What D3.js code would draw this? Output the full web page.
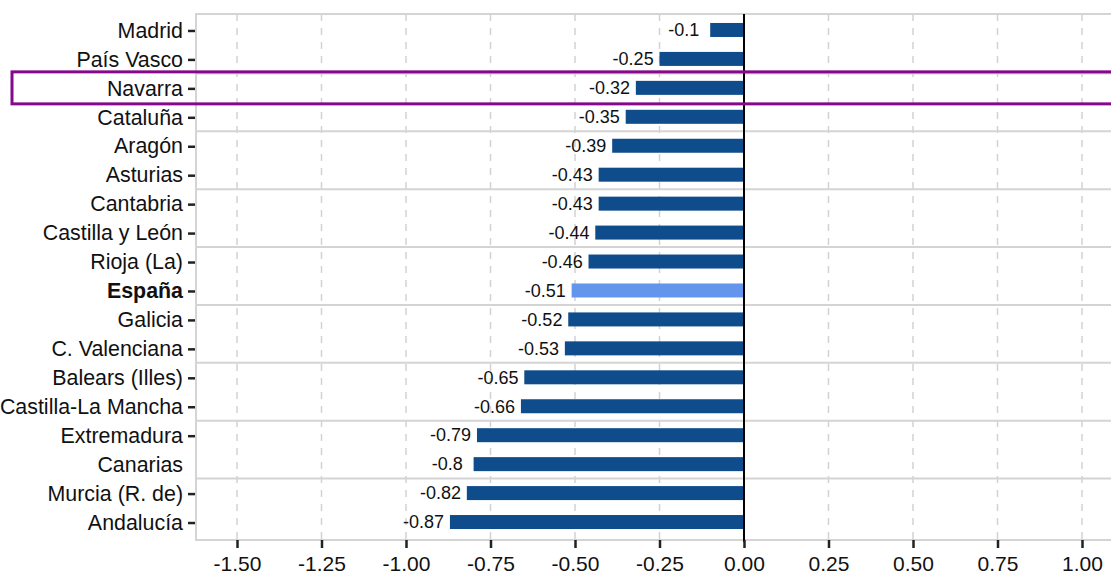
<!DOCTYPE html>
<html>
<head>
<meta charset="utf-8">
<script src="https://cdn.jsdelivr.net/npm/d3@7"></script>
<style>
  html, body { margin: 0; padding: 0; background: #ffffff; }
  svg { display: block; }
  text { font-family: "Liberation Sans", Arial, sans-serif; }
</style>
</head>
<body>
<svg id="chart" width="1111" height="574"></svg>
<script>
const categories = ["Madrid", "País Vasco", "Navarra", "Cataluña", "Aragón", "Asturias", "Cantabria",
  "Castilla y León", "Rioja (La)", "España", "Galicia", "C. Valenciana", "Balears (Illes)",
  "Castilla-La Mancha", "Extremadura", "Canarias", "Murcia (R. de)", "Andalucía"];
const values = [-0.1, -0.25, -0.32, -0.35, -0.39, -0.43, -0.43, -0.44, -0.46, -0.51, -0.52, -0.53,
  -0.65, -0.66, -0.79, -0.8, -0.82, -0.87];
const xTicks = [-1.5, -1.25, -1.0, -0.75, -0.5, -0.25, 0, 0.25, 0.5, 0.75, 1.0];
const highlightCategory = "España";
const boxedCategory = "Navarra";
const noTickCategory = "Canarias";

const data = categories.map((c, i) => ({ cat: c, val: values[i] }));

const svg = d3.select("#chart");
const pLeft = 196, pTop = 14, pBottom = 540;
const bandTop = 15.5, bandBottom = 536.5;
const pxPerUnit = 338;
const x0 = 744;
const xDomain = [(pLeft - x0) / pxPerUnit, 1.13];
const x = d3.scaleLinear().domain(xDomain).range([pLeft, x0 + xDomain[1] * pxPerUnit]);
const y = d3.scaleBand().domain(categories).range([bandTop, bandBottom]).paddingInner(0).paddingOuter(0);
const yc = (c) => y(c) + y.bandwidth() / 2;

// vertical dashed grid
svg.append("g").selectAll("line").data(xTicks).join("line")
  .attr("x1", d => x(d)).attr("x2", d => x(d))
  .attr("y1", pTop).attr("y2", pBottom)
  .attr("stroke", "#d2d2d2").attr("stroke-width", 1.5).attr("stroke-dasharray", "7,7");

// horizontal grid lines every two rows
const hLines = d3.range(2, categories.length, 2);
svg.append("g").selectAll("line").data(hLines).join("line")
  .attr("x1", pLeft).attr("x2", 1111)
  .attr("y1", d => y(categories[d])).attr("y2", d => y(categories[d]))
  .attr("stroke", "#d4d4d4").attr("stroke-width", 2);
// top and bottom frame lines
svg.append("g").selectAll("line").data([pTop, pBottom]).join("line")
  .attr("x1", pLeft).attr("x2", 1111)
  .attr("y1", d => d).attr("y2", d => d)
  .attr("stroke", "#d4d4d4").attr("stroke-width", 2);

// left border
svg.append("line").attr("x1", pLeft).attr("x2", pLeft).attr("y1", pTop - 1).attr("y2", pBottom + 1)
  .attr("stroke", "#d4d4d4").attr("stroke-width", 2);

// bars
svg.append("g").selectAll("rect").data(data).join("rect")
  .attr("x", d => x(Math.min(0, d.val)))
  .attr("width", d => Math.abs(x(d.val) - x(0)))
  .attr("y", d => yc(d.cat) - 7)
  .attr("height", 14)
  .attr("fill", d => d.cat === highlightCategory ? "#6495ed" : "#0f4c8c");

// zero line
svg.append("line").attr("x1", x(0)).attr("x2", x(0)).attr("y1", pTop).attr("y2", pBottom + 2)
  .attr("stroke", "#000").attr("stroke-width", 2);

// value labels
svg.append("g").selectAll("text").data(data).join("text")
  .attr("x", d => x(d.val - 0.078))
  .attr("y", d => yc(d.cat))
  .attr("dy", "0.35em")
  .attr("text-anchor", "middle")
  .attr("font-size", 18)
  .attr("fill", "#111")
  .text(d => String(d.val));

// y axis labels and ticks
const yg = svg.append("g");
yg.selectAll("text").data(categories).join("text")
  .attr("x", 183)
  .attr("y", d => yc(d))
  .attr("dy", "0.36em")
  .attr("text-anchor", "end")
  .attr("font-size", 21.4)
  .attr("font-weight", d => d === highlightCategory ? "bold" : "normal")
  .attr("fill", "#111")
  .text(d => d);
yg.selectAll("line").data(categories.filter(c => c !== noTickCategory)).join("line")
  .attr("x1", 188).attr("x2", 195)
  .attr("y1", d => yc(d) + 1)
  .attr("y2", d => yc(d) + 1)
  .attr("stroke", "#222").attr("stroke-width", 2.5);

// x axis
const xAxis = d3.axisBottom(x).tickValues(xTicks).tickSize(8).tickPadding(8)
  .tickFormat(d => d3.format(".2f")(d).replace("−", "-"));
const xg = svg.append("g").attr("transform", `translate(0,${pBottom})`).call(xAxis);
xg.select(".domain").remove();
xg.selectAll(".tick line").attr("stroke", "#222").attr("stroke-width", 2.5);
xg.selectAll(".tick text").attr("font-size", 21).attr("fill", "#111")
  .attr("font-family", "Liberation Sans, Arial, sans-serif");

// highlight box around a category
const bc = yc(boxedCategory);
svg.append("rect")
  .attr("x", 12).attr("y", bc - 16)
  .attr("width", 1130).attr("height", 32)
  .attr("fill", "none").attr("stroke", "#850a8a").attr("stroke-width", 3);
</script>
</body>
</html>
